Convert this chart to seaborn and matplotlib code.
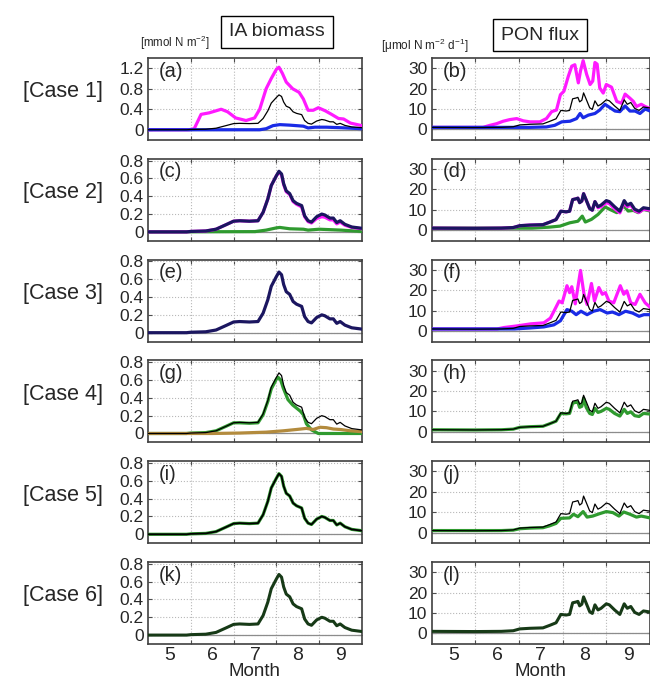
import numpy as np
import matplotlib
matplotlib.use("Agg")
import matplotlib.pyplot as plt
import seaborn as sns

# ---- data (x = month, 5.0 = 1 May) ----
ia_ctrl_t = [5.0, 5.9, 6.0, 6.35, 6.59, 6.82, 7.0, 7.14, 7.37, 7.57, 7.69, 7.8, 7.88, 8.0, 8.06,
             8.12, 8.17, 8.23, 8.31, 8.39, 8.47, 8.59, 8.66, 8.74, 8.82, 8.94, 9.06, 9.13, 9.25,
             9.33, 9.41, 9.49, 9.6, 9.76, 10.0]
ia_ctrl = [0, 0, 0.005, 0.01, 0.03, 0.08, 0.12, 0.125, 0.12, 0.125, 0.22, 0.37, 0.52, 0.63, 0.68,
           0.65, 0.54, 0.46, 0.43, 0.35, 0.32, 0.295, 0.18, 0.125, 0.11, 0.17, 0.2, 0.19, 0.155,
           0.155, 0.105, 0.125, 0.085, 0.055, 0.04]
ia_c2_mag = [0, 0, 0.005, 0.01, 0.03, 0.08, 0.12, 0.125, 0.12, 0.125, 0.22, 0.37, 0.52, 0.63, 0.67,
             0.64, 0.53, 0.45, 0.42, 0.34, 0.31, 0.28, 0.17, 0.115, 0.1, 0.15, 0.17, 0.165, 0.135,
             0.135, 0.09, 0.11, 0.075, 0.05, 0.035]

ia_c1_mag_t = [5.0, 5.96, 6.08, 6.24, 6.43, 6.71, 6.86, 7.05, 7.29, 7.49, 7.61, 7.76, 7.88, 8.0, 8.06,
               8.14, 8.23, 8.38, 8.53, 8.63, 8.74, 8.86, 8.98, 9.14, 9.29, 9.45, 9.57, 9.73, 10.0]
ia_c1_mag = [0, 0, 0.02, 0.3, 0.33, 0.4, 0.35, 0.23, 0.18, 0.23, 0.4, 0.8, 1.0, 1.18, 1.22,
             1.1, 0.93, 0.8, 0.73, 0.6, 0.38, 0.38, 0.43, 0.37, 0.3, 0.22, 0.21, 0.13, 0.08]
ia_c1_blue_t = [5.0, 7.61, 7.76, 7.92, 8.08, 8.31, 8.63, 8.74, 8.9, 9.17, 9.5, 10.0]
ia_c1_blue = [0, 0, 0.02, 0.08, 0.1, 0.09, 0.07, 0.035, 0.05, 0.05, 0.04, 0.02]

ia_c2_green_t = [5.0, 7.5, 7.76, 8.0, 8.08, 8.31, 8.63, 8.74, 9.0, 9.25, 9.5, 10.0]
ia_c2_green = [0, 0.003, 0.02, 0.045, 0.05, 0.035, 0.03, 0.02, 0.03, 0.025, 0.02, 0.005]

ia_c4_green_t = [5.0, 5.9, 6.0, 6.35, 6.59, 6.82, 7.0, 7.14, 7.37, 7.57, 7.69, 7.8, 7.88, 8.0, 8.04,
                 8.1, 8.16, 8.27, 8.38, 8.47, 8.56, 8.63, 8.7, 8.82, 8.98, 10.0]
ia_c4_green = [0, 0, 0.005, 0.01, 0.03, 0.08, 0.12, 0.12, 0.115, 0.12, 0.21, 0.36, 0.5, 0.61, 0.63,
               0.6, 0.51, 0.38, 0.32, 0.285, 0.25, 0.21, 0.11, 0.04, 0.0, 0.0]
ia_c4_brown_t = [5.0, 6.5, 7.14, 7.76, 8.16, 8.47, 8.7, 8.86, 9.02, 9.17, 9.33, 9.49, 9.73, 10.0]
ia_c4_brown = [0, 0, 0.005, 0.015, 0.03, 0.045, 0.057, 0.045, 0.07, 0.065, 0.05, 0.045, 0.03, 0.02]

pon_ctrl_t = [5.0, 6.0, 6.6, 6.87, 7.02, 7.25, 7.55, 7.7, 7.85, 7.96, 8.08, 8.16, 8.23, 8.31, 8.35,
              8.39, 8.44, 8.48, 8.54, 8.62, 8.68, 8.74, 8.81, 8.88, 9.0, 9.07, 9.19, 9.31, 9.41,
              9.48, 9.56, 9.65, 9.75, 9.85, 10.0]
pon_ctrl = [1.0, 0.9, 1.0, 1.3, 2.2, 2.5, 2.7, 3.9, 5.2, 9.3, 9.0, 9.3, 15.0, 15.4, 15.7,
            13.5, 14.3, 17.9, 14.8, 10.6, 9.8, 14.0, 11.5, 12.3, 14.5, 14.0, 11.5, 9.3, 14.5,
            12.3, 13.2, 10.3, 9.3, 11.0, 10.5]
pon_c2_mag = [1.0, 0.9, 1.0, 1.3, 2.2, 2.5, 2.7, 3.9, 5.2, 9.3, 9.0, 9.3, 15.0, 15.4, 15.7,
              13.5, 14.3, 17.9, 14.8, 10.6, 9.8, 14.0, 11.0, 11.5, 13.5, 13.0, 10.5, 8.5, 13.5,
              11.5, 12.3, 9.6, 8.7, 10.3, 9.8]
pon_c4_green = [1.0, 0.9, 1.0, 1.3, 2.2, 2.5, 2.7, 3.9, 5.2, 9.0, 8.8, 9.0, 14.0, 14.5, 14.5,
                12.0, 12.5, 16.5, 12.0, 9.0, 8.5, 11.5, 9.5, 10.0, 11.5, 11.0, 9.0, 7.7, 11.0,
                9.0, 9.8, 7.9, 7.5, 9.0, 8.7]

pon_c1_mag_t = [5.0, 6.18, 6.34, 6.49, 6.64, 6.79, 6.95, 7.1, 7.25, 7.48, 7.63, 7.75, 7.86, 7.95,
                8.03, 8.13, 8.21, 8.28, 8.36, 8.41, 8.47, 8.55, 8.63, 8.69, 8.74, 8.79, 8.85, 8.93,
                9.0, 9.12, 9.24, 9.35, 9.43, 9.54, 9.62, 9.69, 9.8, 9.89, 10.0]
pon_c1_mag = [1, 1, 2, 2.8, 4, 4.8, 5.3, 4.2, 3.7, 3.7, 5.3, 8.7, 9.5, 17,
              18.7, 26, 31, 31.7, 22.8, 28.7, 33.7, 27, 22, 23.7, 32.8, 32, 20.3, 17.8,
              22, 20.7, 13.7, 12.8, 17.3, 15.3, 13.7, 11.2, 12.3, 11.2, 10.3]
pon_c1_blue_t = [5.0, 7.25, 7.63, 7.82, 7.98, 8.17, 8.32, 8.4, 8.47, 8.59, 8.74, 8.85, 8.97, 9.08,
                 9.2, 9.31, 9.43, 9.54, 9.66, 9.77, 9.89, 10.0]
pon_c1_blue = [1, 1, 1.2, 2, 3.7, 4, 5.3, 7.8, 5.7, 7, 7.8, 9.5, 12.3, 10.7,
               9, 8.7, 11.5, 9, 9, 7.8, 10, 9]

pon_c2_green_t = [5.0, 7.3, 7.7, 7.94, 8.16, 8.35, 8.45, 8.52, 8.66, 8.81, 8.97, 9.08, 9.24, 9.4,
                  9.5, 9.62, 9.73, 9.85, 10.0]
pon_c2_green = [1, 1, 1.5, 2, 3.6, 4.4, 6.9, 4, 5.3, 7.7, 11.4, 10.2, 8.6, 11.9,
                9.4, 9.7, 8.6, 10.2, 9.4]

pon_c3_mag_t = [5.0, 6.5, 6.66, 6.96, 7.27, 7.57, 7.72, 7.84, 7.92, 7.99, 8.1, 8.16, 8.21, 8.29,
                8.41, 8.49, 8.56, 8.66, 8.73, 8.83, 8.91, 8.98, 9.06, 9.17, 9.32, 9.4, 9.47, 9.56,
                9.66, 9.77, 9.89, 10.0]
pon_c3_mag = [1, 1, 1.7, 2.5, 3.5, 4, 6.3, 11.3, 14.7, 13.8, 22.2, 18.8, 21.7, 13.3,
              29.7, 18, 13, 23.3, 14.7, 21.3, 18, 18.8, 14.7, 13.8, 22.2, 18, 19.7, 13.8,
              13, 18, 13.8, 11.7]
pon_c3_blue_t = [5.0, 6.9, 7.27, 7.57, 7.8, 7.95, 8.1, 8.21, 8.31, 8.42, 8.56, 8.71, 8.86, 9.02,
                 9.14, 9.29, 9.44, 9.6, 9.75, 9.86, 10.0]
pon_c3_blue = [1, 1, 1.5, 2, 3, 5, 10.5, 9.7, 8, 9.7, 8, 9.7, 10.5, 8.8,
               9.3, 8, 9.7, 8.8, 7.2, 8, 8]

pon_c5_green_t = [5.0, 6.6, 6.87, 7.02, 7.25, 7.55, 7.7, 7.85, 7.96, 8.16, 8.25, 8.35, 8.47, 8.56,
                  8.69, 8.85, 9.0, 9.15, 9.29, 9.4, 9.54, 9.69, 9.8, 10.0]
pon_c5_green = [1.0, 1.0, 1.2, 1.9, 2.2, 2.4, 3.3, 4.5, 7.0, 7.2, 9.0, 7.8, 10.3, 7.6,
                8.1, 9.3, 10.3, 9.8, 8.1, 10.1, 9.0, 7.6, 8.1, 7.2]

case_labels = ["[Case 1]", "[Case 2]", "[Case 3]", "[Case 4]", "[Case 5]", "[Case 6]"]
letters_left = ["(a)", "(c)", "(e)", "(g)", "(i)", "(k)"]
letters_right = ["(b)", "(d)", "(f)", "(h)", "(j)", "(l)"]
month_labels = ["5", "6", "7", "8", "9"]

MAG = "#ff1aff"
BLUE = "#1a2be6"
NAVY = "#1b1660"
GREEN = "#2f9a2f"
BROWN = "#b38b3d"
DKGREEN = "#173a17"

# (x, y, colour, linewidth) per panel, drawn in order
left_series = [
    [(ia_c1_mag_t, ia_c1_mag, MAG, 2.3), (ia_c1_blue_t, ia_c1_blue, BLUE, 2.3), (ia_ctrl_t, ia_ctrl, "black", 0.9)],
    [(ia_c2_green_t, ia_c2_green, GREEN, 2.3), (ia_ctrl_t, ia_c2_mag, MAG, 2.3), (ia_ctrl_t, ia_ctrl, NAVY, 2.3)],
    [(ia_ctrl_t, ia_ctrl, NAVY, 2.3)],
    [(ia_c4_green_t, ia_c4_green, GREEN, 2.3), (ia_c4_brown_t, ia_c4_brown, BROWN, 2.3), (ia_ctrl_t, ia_ctrl, "black", 0.9)],
    [(ia_ctrl_t, ia_ctrl, GREEN, 2.3), (ia_ctrl_t, ia_ctrl, "black", 1.3)],
    [(ia_ctrl_t, ia_ctrl, DKGREEN, 2.2)],
]
right_series = [
    [(pon_c1_mag_t, pon_c1_mag, MAG, 2.3), (pon_c1_blue_t, pon_c1_blue, BLUE, 2.3), (pon_ctrl_t, pon_ctrl, "black", 0.9)],
    [(pon_c2_green_t, pon_c2_green, GREEN, 2.3), (pon_ctrl_t, pon_c2_mag, MAG, 2.3), (pon_ctrl_t, pon_ctrl, NAVY, 2.3)],
    [(pon_c3_mag_t, pon_c3_mag, MAG, 2.3), (pon_c3_blue_t, pon_c3_blue, BLUE, 2.3), (pon_ctrl_t, pon_ctrl, "black", 0.9)],
    [(pon_ctrl_t, pon_c4_green, GREEN, 2.3), (pon_ctrl_t, pon_ctrl, "black", 0.9)],
    [(pon_c5_green_t, pon_c5_green, GREEN, 2.3), (pon_ctrl_t, pon_ctrl, "black", 0.9)],
    [(pon_ctrl_t, pon_ctrl, DKGREEN, 2.2)],
]

sns.set_style("ticks")
plt.rcParams["font.family"] = ["Liberation Sans", "DejaVu Sans"]
plt.rcParams["mathtext.default"] = "regular"

W, H = 650, 681
fig = plt.figure(figsize=(W / 100, H / 100), dpi=100)


def style_axes(ax, ylim, yticks, ylabels, bottom):
    ax.set_xlim(5, 10)
    ax.set_ylim(*ylim)
    ax.set_xticks([6, 7, 8, 9])
    ax.set_xticks([5.5, 6.5, 7.5, 8.5, 9.5], minor=True)
    ax.set_xticklabels([])
    if bottom:
        ax.set_xticklabels(month_labels, minor=True, fontsize=14)
    ax.set_yticks(yticks)
    ax.set_yticklabels(ylabels, fontsize=12.5)
    ax.tick_params(axis="x", which="minor", length=0, pad=2)
    ax.tick_params(which="major", direction="in", top=True, right=True, length=3,
                   width=0.8, pad=3, color="0.3")
    ax.grid(True, which="major", ls=":", color="0.72", lw=0.8)
    ax.axhline(0, color="0.55", lw=0.9, zorder=1)
    for s in ax.spines.values():
        s.set_color("0.25")
        s.set_linewidth(1.2)
    ax.set_xlabel("")
    ax.set_ylabel("")


row_h = 82
for i in range(6):
    top = 58 + 100.8 * i
    bottom = 1 - (top + row_h) / H
    axl = fig.add_axes([148 / W, bottom, 214 / W, row_h / H])
    axr = fig.add_axes([431.5 / W, bottom, 218.5 / W, row_h / H])

    for x, y, c, lw in left_series[i]:
        sns.lineplot(x=x, y=y, ax=axl, color=c, lw=lw, estimator=None, zorder=3)
    for x, y, c, lw in right_series[i]:
        sns.lineplot(x=x, y=y, ax=axr, color=c, lw=lw, estimator=None, zorder=3)

    last = i == 5
    if i == 0:
        style_axes(axl, (-0.2, 1.4), [0, 0.4, 0.8, 1.2], ["0", "0.4", "0.8", "1.2"], last)
    else:
        style_axes(axl, (-0.1, 0.82), [0, 0.2, 0.4, 0.6, 0.8], ["0", "0.2", "0.4", "0.6", "0.8"], last)
    style_axes(axr, (-5.2, 35), [0, 10, 20, 30], ["0", "10", "20", "30"], last)

    axl.text(0.05, 0.84, letters_left[i], transform=axl.transAxes, fontsize=14.5, va="center")
    axr.text(0.05, 0.84, letters_right[i], transform=axr.transAxes, fontsize=14.5, va="center")
    fig.text(63 / W, 1 - (top + 34) / H, case_labels[i], fontsize=15.5, ha="center", va="center")

box = dict(boxstyle="square,pad=0.4", fc="white", ec="black", lw=1)
fig.text(277 / W, 1 - 32 / H, "IA biomass", fontsize=14, ha="center", va="center", bbox=box)
fig.text(540 / W, 1 - 35 / H, "PON flux", fontsize=14, ha="center", va="center", bbox=box)
fig.text(140 / W, 1 - 43 / H, "[mmol N m$^{-2}$]", fontsize=8.3, ha="left", va="center")
fig.text(381 / W, 1 - 46 / H, "[\u03bcmol N m$^{-2}$ d$^{-1}$]", fontsize=8.5, ha="left", va="center")
fig.text(255 / W, 1 - 680 / H, "Month", fontsize=13.5, ha="center", va="bottom")
fig.text(540 / W, 1 - 680 / H, "Month", fontsize=13.5, ha="center", va="bottom")

fig.savefig("out.png", dpi=100)
